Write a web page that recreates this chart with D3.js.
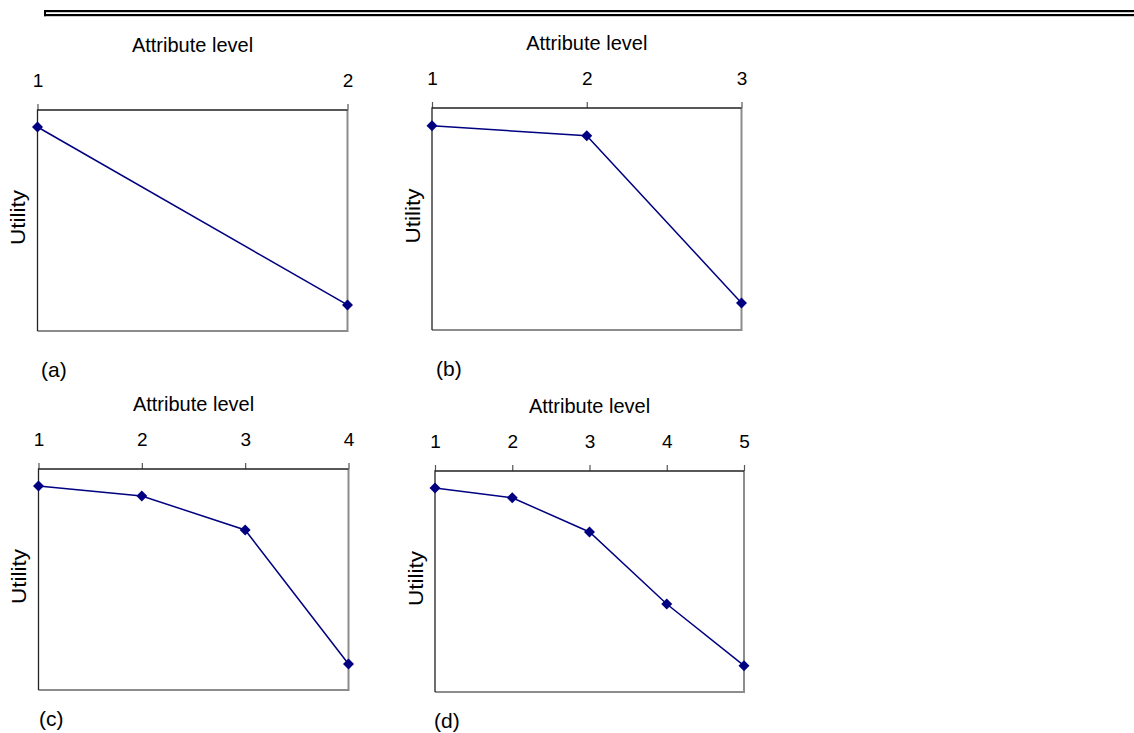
<!DOCTYPE html>
<html>
<head>
<meta charset="utf-8">
<script src="https://cdn.jsdelivr.net/npm/d3@7"></script>
<style>
  html, body { margin: 0; padding: 0; background: #fff; }
  svg text { font-family: "Liberation Sans", Arial, sans-serif; fill: #000; }
</style>
</head>
<body>
<svg id="chart" width="1134" height="733"></svg>
<script>
// ---- data ----
const panelLetters = ["(a)", "(b)", "(c)", "(d)"];
const levelsA = [1, 2];
const levelsB = [1, 2, 3];
const levelsC = [1, 2, 3, 4];
const levelsD = [1, 2, 3, 4, 5];
const utilityA = [92.3, 11.8];
const utilityB = [92.0, 87.5, 12.2];
const utilityC = [92.3, 87.8, 72.4, 11.8];
const utilityD = [92.3, 87.9, 72.4, 39.8, 11.9];
const xTitle = "Attribute level";
const yTitle = "Utility";

// ---- layout ----
const layout = [
  { left: 37.5, right: 347.5, top: 110, bottom: 331, letterX: 41, letterY: 377 },
  { left: 432,  right: 741.5, top: 108, bottom: 330, letterX: 436, letterY: 376 },
  { left: 38.5, right: 348.5, top: 469, bottom: 690, letterX: 39, letterY: 726 },
  { left: 435,  right: 744,   top: 471, bottom: 692, letterX: 434, letterY: 728 }
];
const panels = [
  { levels: levelsA, values: utilityA },
  { levels: levelsB, values: utilityB },
  { levels: levelsC, values: utilityC },
  { levels: levelsD, values: utilityD }
];

const svg = d3.select("#chart");
const navy = "#000080";

// top double rule
svg.append("rect").attr("x", 44).attr("y", 10).attr("width", 1090).attr("height", 2.2).attr("fill", "#000");
svg.append("rect").attr("x", 44).attr("y", 14).attr("width", 1090).attr("height", 2.2).attr("fill", "#000");
svg.append("rect").attr("x", 44).attr("y", 10).attr("width", 2).attr("height", 6.2).attr("fill", "#000");

panels.forEach((p, i) => {
  const L = layout[i];
  const x = d3.scaleLinear().domain([1, p.levels.length]).range([L.left, L.right]);
  const y = d3.scaleLinear().domain([0, 100]).range([L.bottom, L.top]);
  const g = svg.append("g");

  // right & bottom gray border
  g.append("path")
    .attr("d", `M${L.left},${L.bottom}H${L.right}V${L.top}`)
    .attr("fill", "none").attr("stroke", "#8c8c8c").attr("stroke-width", 2);

  // top axis
  const ax = g.append("g").attr("transform", `translate(0,${L.top})`)
    .call(d3.axisTop(x).tickValues(p.levels).tickFormat(d3.format("d")).tickSize(6).tickPadding(17));
  ax.select(".domain").remove();
  ax.selectAll(".tick line").attr("stroke", "#555").attr("stroke-width", 1.2);
  ax.selectAll(".tick text").attr("font-size", 19).attr("font-family", "Liberation Sans, Arial, sans-serif").attr("fill", "#000");

  // top and left black lines
  g.append("path")
    .attr("d", `M${L.left},${L.bottom}V${L.top}H${L.right}`)
    .attr("fill", "none").attr("stroke", "#222").attr("stroke-width", 1.3);

  // titles
  g.append("text").attr("x", (L.left + L.right) / 2).attr("y", L.top - 58)
    .attr("text-anchor", "middle").attr("font-size", 20).text(xTitle);
  const cy = (L.top + L.bottom) / 2 - 3;
  const cx = L.left - 19.5;
  g.append("text").attr("transform", `translate(${cx},${cy}) rotate(-90)`)
    .attr("text-anchor", "middle").attr("dy", "0.35em").attr("font-size", 20)
    .attr("textLength", 55).attr("lengthAdjust", "spacingAndGlyphs").text(yTitle);
  g.append("text").attr("x", L.letterX).attr("y", L.letterY)
    .attr("font-size", 21).text(panelLetters[i]);

  // series
  const pts = p.levels.map((lv, k) => [lv, p.values[k]]);
  g.append("path").datum(pts)
    .attr("d", d3.line().x(d => x(d[0])).y(d => y(d[1])))
    .attr("fill", "none").attr("stroke", navy).attr("stroke-width", 1.5);
  g.selectAll(".m").data(pts).enter().append("path")
    .attr("transform", d => `translate(${x(d[0])},${y(d[1])}) rotate(45)`)
    .attr("d", d3.symbol(d3.symbolSquare, 60)())
    .attr("fill", navy);
});
</script>
</body>
</html>
